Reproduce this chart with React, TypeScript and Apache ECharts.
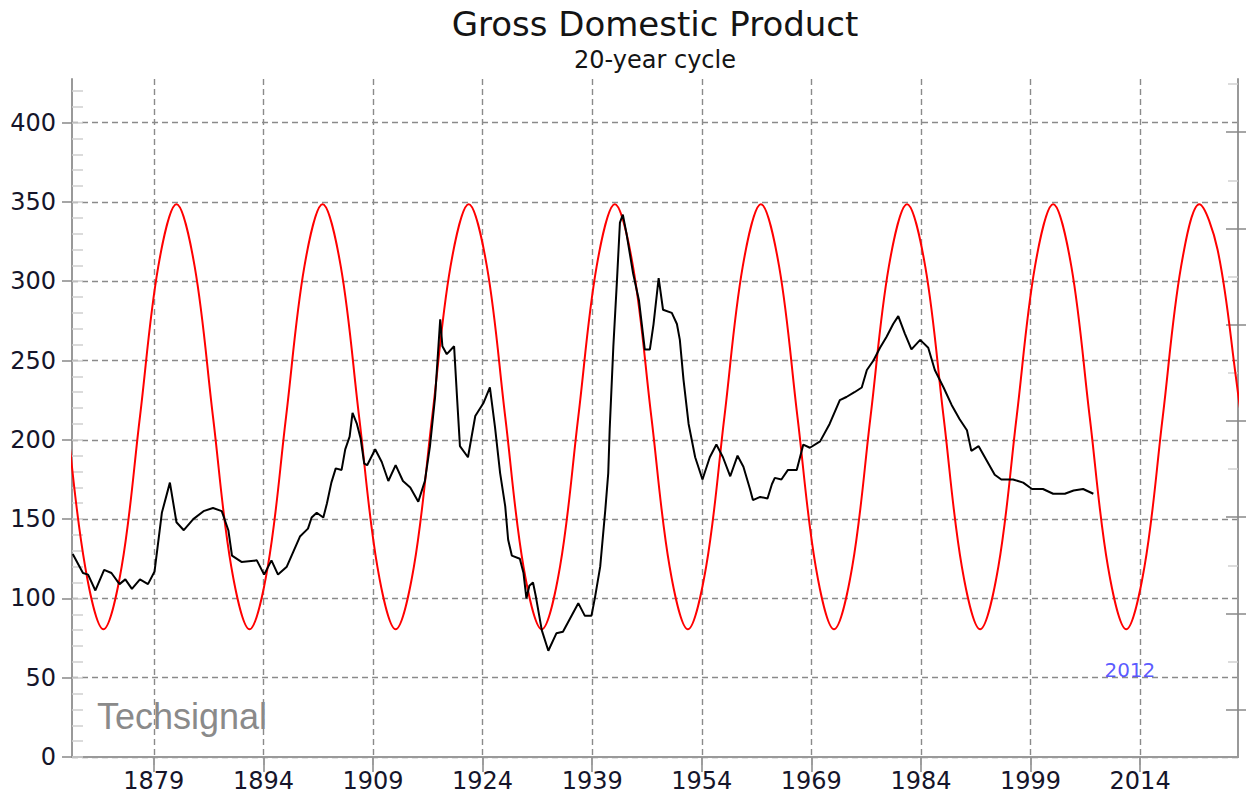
import React, { useEffect, useRef } from "react";
import * as echarts from "echarts";

// ---- data ----
const xTickYears = [1879, 1894, 1909, 1924, 1939, 1954, 1969, 1984, 1999, 2014];
const yTickValues = [0, 50, 100, 150, 200, 250, 300, 350, 400];
const yMinorValues = [0, 10, 20, 30, 40, 50, 60, 70, 80, 90, 100, 110, 120, 130, 140, 150, 160, 170, 180, 190, 200, 210, 220, 230, 240, 250, 260, 270, 280, 290, 300, 310, 320, 330, 340, 350, 360, 370, 380, 390, 400, 410, 420];
const rightMajorValues = [29.8, 90.5, 151.2, 211.9, 272.6, 333.3, 394];
const rightMinorValues = [60.15, 120.85, 181.55, 242.25, 302.95, 363.65, 424.35];

// 20-year cycle (red), read at eighth-period points
const cycleYears = [
  1867.1, 1869.6, 1872.1, 1874.6, 1877.1, 1879.6, 1882.1, 1884.6,
  1887.1, 1889.6, 1892.1, 1894.6, 1897.1, 1899.6, 1902.1, 1904.6,
  1907.1, 1909.6, 1912.1, 1914.6, 1917.1, 1919.6, 1922.1, 1924.6,
  1927.1, 1929.6, 1932.1, 1934.6, 1937.1, 1939.6, 1942.1, 1944.6,
  1947.1, 1949.6, 1952.1, 1954.6, 1957.1, 1959.6, 1962.1, 1964.6,
  1967.1, 1969.6, 1972.1, 1974.6, 1977.1, 1979.6, 1982.1, 1984.6,
  1987.1, 1989.6, 1992.1, 1994.6, 1997.1, 1999.6, 2002.1, 2004.6,
  2007.1, 2009.6, 2012.1, 2014.6, 2017.1, 2019.6, 2022.1, 2024.6,
  2027.1, 2029.6,
];
const cycleValues = [
  214.5, 120, 80.5, 120, 214.5, 309, 348.5, 309,
  214.5, 120, 80.5, 120, 214.5, 309, 348.5, 309,
  214.5, 120, 80.5, 120, 214.5, 309, 348.5, 309,
  214.5, 120, 80.5, 120, 214.5, 309, 348.5, 309,
  214.5, 120, 80.5, 120, 214.5, 309, 348.5, 309,
  214.5, 120, 80.5, 120, 214.5, 309, 348.5, 309,
  214.5, 120, 80.5, 120, 214.5, 309, 348.5, 309,
  214.5, 120, 80.5, 120, 214.5, 309, 348.5, 320,
  240, 150,
];

// GDP (black)
const gdpYears = [
  1867.9, 1869.3, 1870.0, 1871.0, 1872.2, 1873.2, 1874.3, 1875.1, 1876.0, 1877.1,
  1878.2, 1879.1, 1880.1, 1881.2, 1882.1, 1883.1, 1884.4, 1885.8, 1887.1, 1888.3,
  1889.2, 1889.7, 1891.0, 1893.1, 1894.1, 1895.1, 1896.0, 1897.2, 1899.0, 1900.1,
  1900.6, 1901.3, 1902.2, 1902.7, 1903.3, 1903.9, 1904.7, 1905.2, 1905.8, 1906.2,
  1906.8, 1907.3, 1907.8, 1908.2, 1909.3, 1910.2, 1911.1, 1912.1, 1913.1, 1914.1,
  1915.2, 1916.1, 1916.8, 1917.5, 1918.2, 1918.5, 1919.1, 1920.1, 1920.5, 1920.9,
  1922.0, 1923.0, 1924.1, 1925.0, 1925.7, 1926.4, 1927.1, 1927.5, 1928.0, 1929.1,
  1929.6, 1930.0, 1930.4, 1930.9, 1931.3, 1932.1, 1933.0, 1934.1, 1935.0, 1937.1,
  1938.0, 1938.9, 1939.4, 1940.1, 1940.8, 1941.2, 1941.4, 1941.9, 1942.4, 1942.8,
  1943.2, 1943.7, 1944.6, 1945.4, 1946.2, 1946.9, 1947.4, 1948.1, 1948.7, 1949.9,
  1950.6, 1951.0, 1951.5, 1952.2, 1953.1, 1954.1, 1955.1, 1956.0, 1956.9, 1957.9,
  1958.9, 1959.7, 1960.6, 1961.0, 1962.0, 1963.0, 1963.6, 1964.0, 1964.9, 1965.8,
  1967.0, 1967.9, 1968.8, 1970.2, 1971.5, 1972.9, 1973.8, 1974.9, 1975.9, 1976.6,
  1977.5, 1978.4, 1979.3, 1980.2, 1980.9, 1981.8, 1982.7, 1983.9, 1985.0, 1985.9,
  1987.1, 1988.2, 1989.3, 1990.3, 1990.9, 1991.9, 1993.0, 1994.1, 1995.0, 1996.6,
  1998.0, 1999.2, 2000.7, 2002.1, 2003.7, 2004.9, 2006.2, 2007.6,
];
const gdpValues = [
  128, 116, 115, 105, 118, 116, 109, 112, 106, 112,
  109, 117, 154, 173, 148, 143, 150, 155, 157, 155,
  143, 127, 123, 124, 115, 124, 115, 120, 139, 144,
  151, 154, 151, 160, 173, 182, 181, 194, 202, 217,
  210, 201, 185, 184, 194, 186, 174, 184, 174, 170,
  161, 174, 196, 227, 276, 259, 254, 259, 227, 196,
  189, 215, 223, 233, 208, 179, 158, 137, 127, 125,
  116, 100, 108, 110, 101, 80, 67, 78, 79, 97,
  89, 89, 101, 120, 156, 179, 207, 259, 301, 337,
  342, 330, 305, 288, 257, 257, 273, 302, 282, 280,
  273, 263, 238, 210, 189, 175, 189, 197, 189, 177,
  190, 183, 169, 162, 164, 163, 172, 176, 175, 181,
  181, 197, 195, 199, 210, 225, 227, 230, 233, 244,
  250, 258, 265, 273, 278, 267, 257, 263, 258, 244,
  233, 222, 213, 206, 193, 196, 187, 178, 175, 175,
  173, 169, 169, 166, 166, 168, 169, 166,
];

const noteYears = [2012.6];
const noteValues = [55];
const noteTexts = ["2012"];

const FONT = "DejaVu Sans, Verdana, sans-serif";
const LABEL_COLOR = "#15152a";

export default function App() {
  const ref = useRef<HTMLDivElement>(null);
  useEffect(() => {
    if (!ref.current) return;
    const chart = echarts.init(ref.current, null, { renderer: "svg" });
    const gridStyle = { type: [6, 4] as any, color: "#8a8a8a", width: 1.4 };
    const frame = { show: true, lineStyle: { color: "#999", width: 2 } };
    const xMin = 1867.8;
    const xMax = 2027.4;
    const yMax = 427.5;
    chart.setOption({
      animation: false,
      backgroundColor: "#fff",
      title: [
        {
          text: "Gross Domestic Product",
          left: 650,
          top: 2,
          textAlign: "center",
          textStyle: { fontFamily: FONT, fontSize: 34, fontWeight: "normal", color: "#141414" },
        },
        {
          text: "20-year cycle",
          left: 650,
          top: 43,
          textAlign: "center",
          textStyle: { fontFamily: FONT, fontSize: 24, fontWeight: "normal", color: "#141414" },
        },
      ],
      grid: { left: 72, right: 8, top: 79, bottom: 45, containLabel: false },
      xAxis: [
        {
          type: "value",
          position: "bottom",
          min: xMin,
          max: xMax,
          axisLine: frame,
          axisTick: { show: true, customValues: xTickYears, length: 15, lineStyle: { color: "#888", width: 1.5 } },
          axisLabel: {
            customValues: xTickYears,
            formatter: (v: number) => String(Math.round(v)),
            fontFamily: FONT,
            fontSize: 24,
            color: LABEL_COLOR,
            margin: 12,
          },
          splitLine: { show: true, lineStyle: gridStyle },
        },
        {
          type: "value",
          position: "top",
          min: xMin,
          max: xMax,
          axisLine: frame,
          axisTick: { show: true, inside: true, customValues: xTickYears, length: 8, lineStyle: { color: "#999", width: 1.5 } },
          axisLabel: { show: false },
          splitLine: { show: false },
        },
      ],
      yAxis: [
        {
          type: "value",
          position: "left",
          min: 0,
          max: yMax,
          axisLine: frame,
          axisTick: { show: true, customValues: yTickValues, length: 10, lineStyle: { color: "#888", width: 1.5 } },
          axisLabel: {
            customValues: yTickValues,
            formatter: (v: number) => String(Math.round(v)),
            fontFamily: FONT,
            fontSize: 24,
            color: LABEL_COLOR,
            margin: 16,
          },
          splitLine: { show: true, lineStyle: gridStyle },
        },
        {
          type: "value",
          position: "left",
          min: 0,
          max: yMax,
          axisLine: { show: false },
          axisTick: { show: true, inside: true, customValues: yMinorValues, length: 11, lineStyle: { color: "#cfcfcf", width: 1.5 } },
          axisLabel: { show: false },
          splitLine: { show: false },
        },
        {
          type: "value",
          position: "right",
          min: 0,
          max: yMax,
          axisLine: frame,
          axisTick: { show: true, inside: true, customValues: rightMajorValues, length: 12, lineStyle: { color: "#888", width: 1.5 } },
          axisLabel: { show: false },
          splitLine: { show: false },
        },
        {
          type: "value",
          position: "right",
          min: 0,
          max: yMax,
          axisLine: { show: false },
          axisTick: { show: true, inside: false, customValues: rightMajorValues, length: 8, lineStyle: { color: "#888", width: 1.5 } },
          axisLabel: { show: false },
          splitLine: { show: false },
        },
        {
          type: "value",
          position: "right",
          min: 0,
          max: yMax,
          axisLine: { show: false },
          axisTick: { show: true, inside: true, customValues: rightMinorValues, length: 10, lineStyle: { color: "#d0d0d0", width: 1.5 } },
          axisLabel: { show: false },
          splitLine: { show: false },
        },
      ],
      graphic: [
        {
          type: "text",
          left: 97,
          top: 698,
          silent: true,
          style: {
            text: "Techsignal",
            font: "36px 'Liberation Sans', Arial, sans-serif",
            fill: "#8a8a8a",
          },
        },
      ],
      series: [
        {
          name: "cycle",
          type: "line",
          xAxisIndex: 0,
          yAxisIndex: 0,
          data: cycleYears.map((y, i) => [y, cycleValues[i]]),
          showSymbol: false,
          smooth: 0.35,
          clip: true,
          lineStyle: { color: "#ff0000", width: 2 },
          z: 3,
        },
        {
          name: "gdp",
          type: "line",
          xAxisIndex: 0,
          yAxisIndex: 0,
          data: gdpYears.map((y, i) => [y, gdpValues[i]]),
          showSymbol: false,
          clip: true,
          lineStyle: { color: "#000000", width: 2 },
          z: 4,
        },
        {
          name: "note",
          type: "scatter",
          xAxisIndex: 0,
          yAxisIndex: 0,
          symbolSize: 0,
          data: noteYears.map((y, i) => ({ value: [y, noteValues[i]], label: { formatter: noteTexts[i] } })),
          label: { show: true, position: "inside", fontFamily: FONT, fontSize: 20, color: "#2f2fff" },
          z: 5,
        },
      ],
    });
    return () => chart.dispose();
  }, []);
  return <div ref={ref} style={{ position: "absolute", left: 0, top: 0, width: 1246, height: 802 }} />;
}
